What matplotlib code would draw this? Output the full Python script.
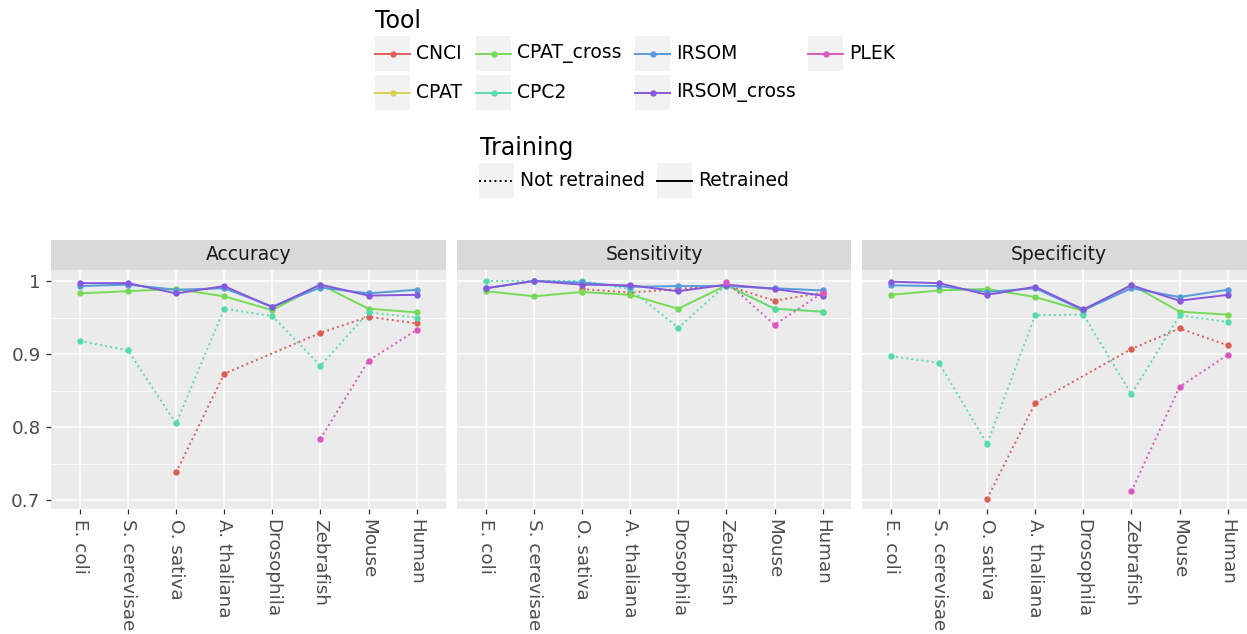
import numpy as np
import matplotlib
matplotlib.use("Agg")
import matplotlib.pyplot as plt
from matplotlib.patches import Rectangle
import seaborn as sns

# species on the x axis
species = ["E. coli", "S. cerevisae", "O. sativa", "A. thaliana",
           "Drosophila", "Zebrafish", "Mouse", "Human"]
tools = ["CNCI", "CPAT", "CPAT_cross", "CPC2", "IRSOM", "IRSOM_cross", "PLEK"]
retrained = {"CNCI": False, "CPAT": False, "CPAT_cross": True, "CPC2": False,
             "IRSOM": True, "IRSOM_cross": True, "PLEK": False}
nan = np.nan

accuracy = {
    "CNCI":        [nan, nan, 0.738, 0.873, nan, 0.929, 0.951, 0.942],
    "CPAT":        [nan, nan, 0.989, nan, nan, nan, nan, nan],
    "CPAT_cross":  [0.983, 0.986, 0.989, 0.979, 0.960, 0.995, 0.962, 0.957],
    "CPC2":        [0.918, 0.905, 0.805, 0.962, 0.952, 0.884, 0.957, 0.950],
    "IRSOM":       [0.993, 0.995, 0.988, 0.990, 0.965, 0.991, 0.983, 0.988],
    "IRSOM_cross": [0.997, 0.997, 0.983, 0.993, 0.964, 0.995, 0.980, 0.981],
    "PLEK":        [nan, nan, nan, nan, nan, 0.784, 0.891, 0.933],
}
sensitivity = {
    "CNCI":        [nan, nan, 0.989, 0.984, nan, 0.994, 0.973, 0.984],
    "CPAT":        [nan, nan, 0.985, nan, nan, nan, nan, nan],
    "CPAT_cross":  [0.986, 0.979, 0.985, 0.981, 0.962, 0.994, 0.962, 0.958],
    "CPC2":        [1.000, 1.000, 1.000, 0.989, 0.936, 0.995, 0.962, 0.958],
    "IRSOM":       [0.990, 1.000, 0.998, 0.992, 0.993, 0.993, 0.990, 0.987],
    "IRSOM_cross": [0.990, 1.000, 0.995, 0.994, 0.986, 0.995, 0.989, 0.980],
    "PLEK":        [nan, nan, nan, nan, nan, 0.999, 0.940, 0.984],
}
specificity = {
    "CNCI":        [nan, nan, 0.702, 0.833, nan, 0.907, 0.935, 0.912],
    "CPAT":        [nan, nan, 0.989, nan, nan, nan, nan, nan],
    "CPAT_cross":  [0.981, 0.987, 0.989, 0.978, 0.959, 0.995, 0.958, 0.954],
    "CPC2":        [0.897, 0.888, 0.777, 0.953, 0.954, 0.845, 0.953, 0.944],
    "IRSOM":       [0.994, 0.993, 0.985, 0.990, 0.960, 0.990, 0.978, 0.988],
    "IRSOM_cross": [0.999, 0.997, 0.981, 0.992, 0.961, 0.994, 0.973, 0.981],
    "PLEK":        [nan, nan, nan, nan, nan, 0.712, 0.855, 0.899],
}
panels = [("Accuracy", accuracy), ("Sensitivity", sensitivity), ("Specificity", specificity)]

colors = dict(zip(tools, sns.hls_palette(len(tools), h=0.01, l=0.6, s=0.65)))

W, H = 1247, 634
fig = plt.figure(figsize=(W / 100, H / 100), dpi=100)
fig.patch.set_facecolor("white")

TXT = 13.2
panel_left = [51, 457, 862]
panel_w = 394.5
panel_top, panel_bot = 270, 509
strip_top = 240

x = np.arange(len(species))
for k, (title, data) in enumerate(panels):
    l = panel_left[k]
    ax = fig.add_axes([l / W, 1 - panel_bot / H, panel_w / W, (panel_bot - panel_top) / H])
    ax.set_facecolor("#ebebeb")
    for s in ax.spines.values():
        s.set_visible(False)
    ax.set_xlim(-0.6, 7.6)
    ax.set_ylim(0.688, 1.015)
    ax.set_yticks([0.7, 0.8, 0.9, 1.0])
    ax.set_yticks([0.75, 0.85, 0.95], minor=True)
    ax.grid(True, which="major", color="white", lw=1.1)
    ax.grid(True, which="minor", axis="y", color="white", lw=0.55)
    ax.set_axisbelow(True)
    ax.set_xticks(x)
    ax.set_xticklabels(species, rotation=-90, va="top", ha="center",
                       fontsize=TXT, color="#4d4d4d")
    ax.tick_params(axis="both", which="major", length=3.5, width=0.9, color="#333333", pad=4)
    ax.tick_params(axis="y", which="minor", length=0)
    if k == 0:
        ax.set_yticklabels(["0.7", "0.8", "0.9", "1"], fontsize=TXT, color="#4d4d4d")
    else:
        ax.tick_params(axis="y", which="major", length=0, labelleft=False)

    # lines first, then points
    for t in tools:
        y = np.array(data[t], dtype=float)
        ok = ~np.isnan(y)
        ax.plot(x[ok], y[ok], color=colors[t], lw=1.4,
                ls="-" if retrained[t] else ":", zorder=2)
    for t in tools:
        y = np.array(data[t], dtype=float)
        ok = ~np.isnan(y)
        ax.plot(x[ok], y[ok], "o", color=colors[t], ms=4.6, mec="none", zorder=3)

    # facet strip
    sax = fig.add_axes([l / W, 1 - panel_top / H, panel_w / W, (panel_top - strip_top) / H])
    sax.set_facecolor("#d9d9d9")
    sax.set_xticks([])
    sax.set_yticks([])
    for s in sax.spines.values():
        s.set_visible(False)
    sax.text(0.5, 0.5, title, ha="center", va="center", fontsize=13.5,
             color="#1a1a1a", transform=sax.transAxes)

# legends drawn in pixel space on an overlay
lg = fig.add_axes([0, 0, 1, 1])
lg.set_xlim(0, W)
lg.set_ylim(H, 0)
lg.axis("off")

LEG = 13.5
lg.text(375, 21, "Tool", fontsize=17, va="center", ha="left")
key_x = [375, 476, 635, 808]
key_y = [36, 75]
kw, kh = 35, 35
for i, t in enumerate(tools):
    kx, ky = key_x[i // 2], key_y[i % 2]
    lg.add_patch(Rectangle((kx, ky), kw, kh, facecolor="#f2f2f2", edgecolor="none"))
    lg.plot([kx, kx + kw], [ky + kh / 2] * 2, color=colors[t], lw=1.4)
    lg.plot([kx + kw / 2], [ky + kh / 2], "o", color=colors[t], ms=4.6, mec="none")
    lg.text(kx + kw + 6, ky + kh / 2, t, fontsize=LEG, va="center", ha="left")

lg.text(480, 148, "Training", fontsize=17, va="center", ha="left")
for kx, lab, ls in [(479, "Not retrained", ":"), (657, "Retrained", "-")]:
    ky = 163
    lg.add_patch(Rectangle((kx, ky), kw, kh, facecolor="#f2f2f2", edgecolor="none"))
    lg.plot([kx, kx + kw], [ky + kh / 2] * 2, color="black", lw=1.4, ls=ls)
    lg.text(kx + kw + 6, ky + kh / 2, lab, fontsize=LEG, va="center", ha="left")

fig.savefig("out.png", dpi=100)
